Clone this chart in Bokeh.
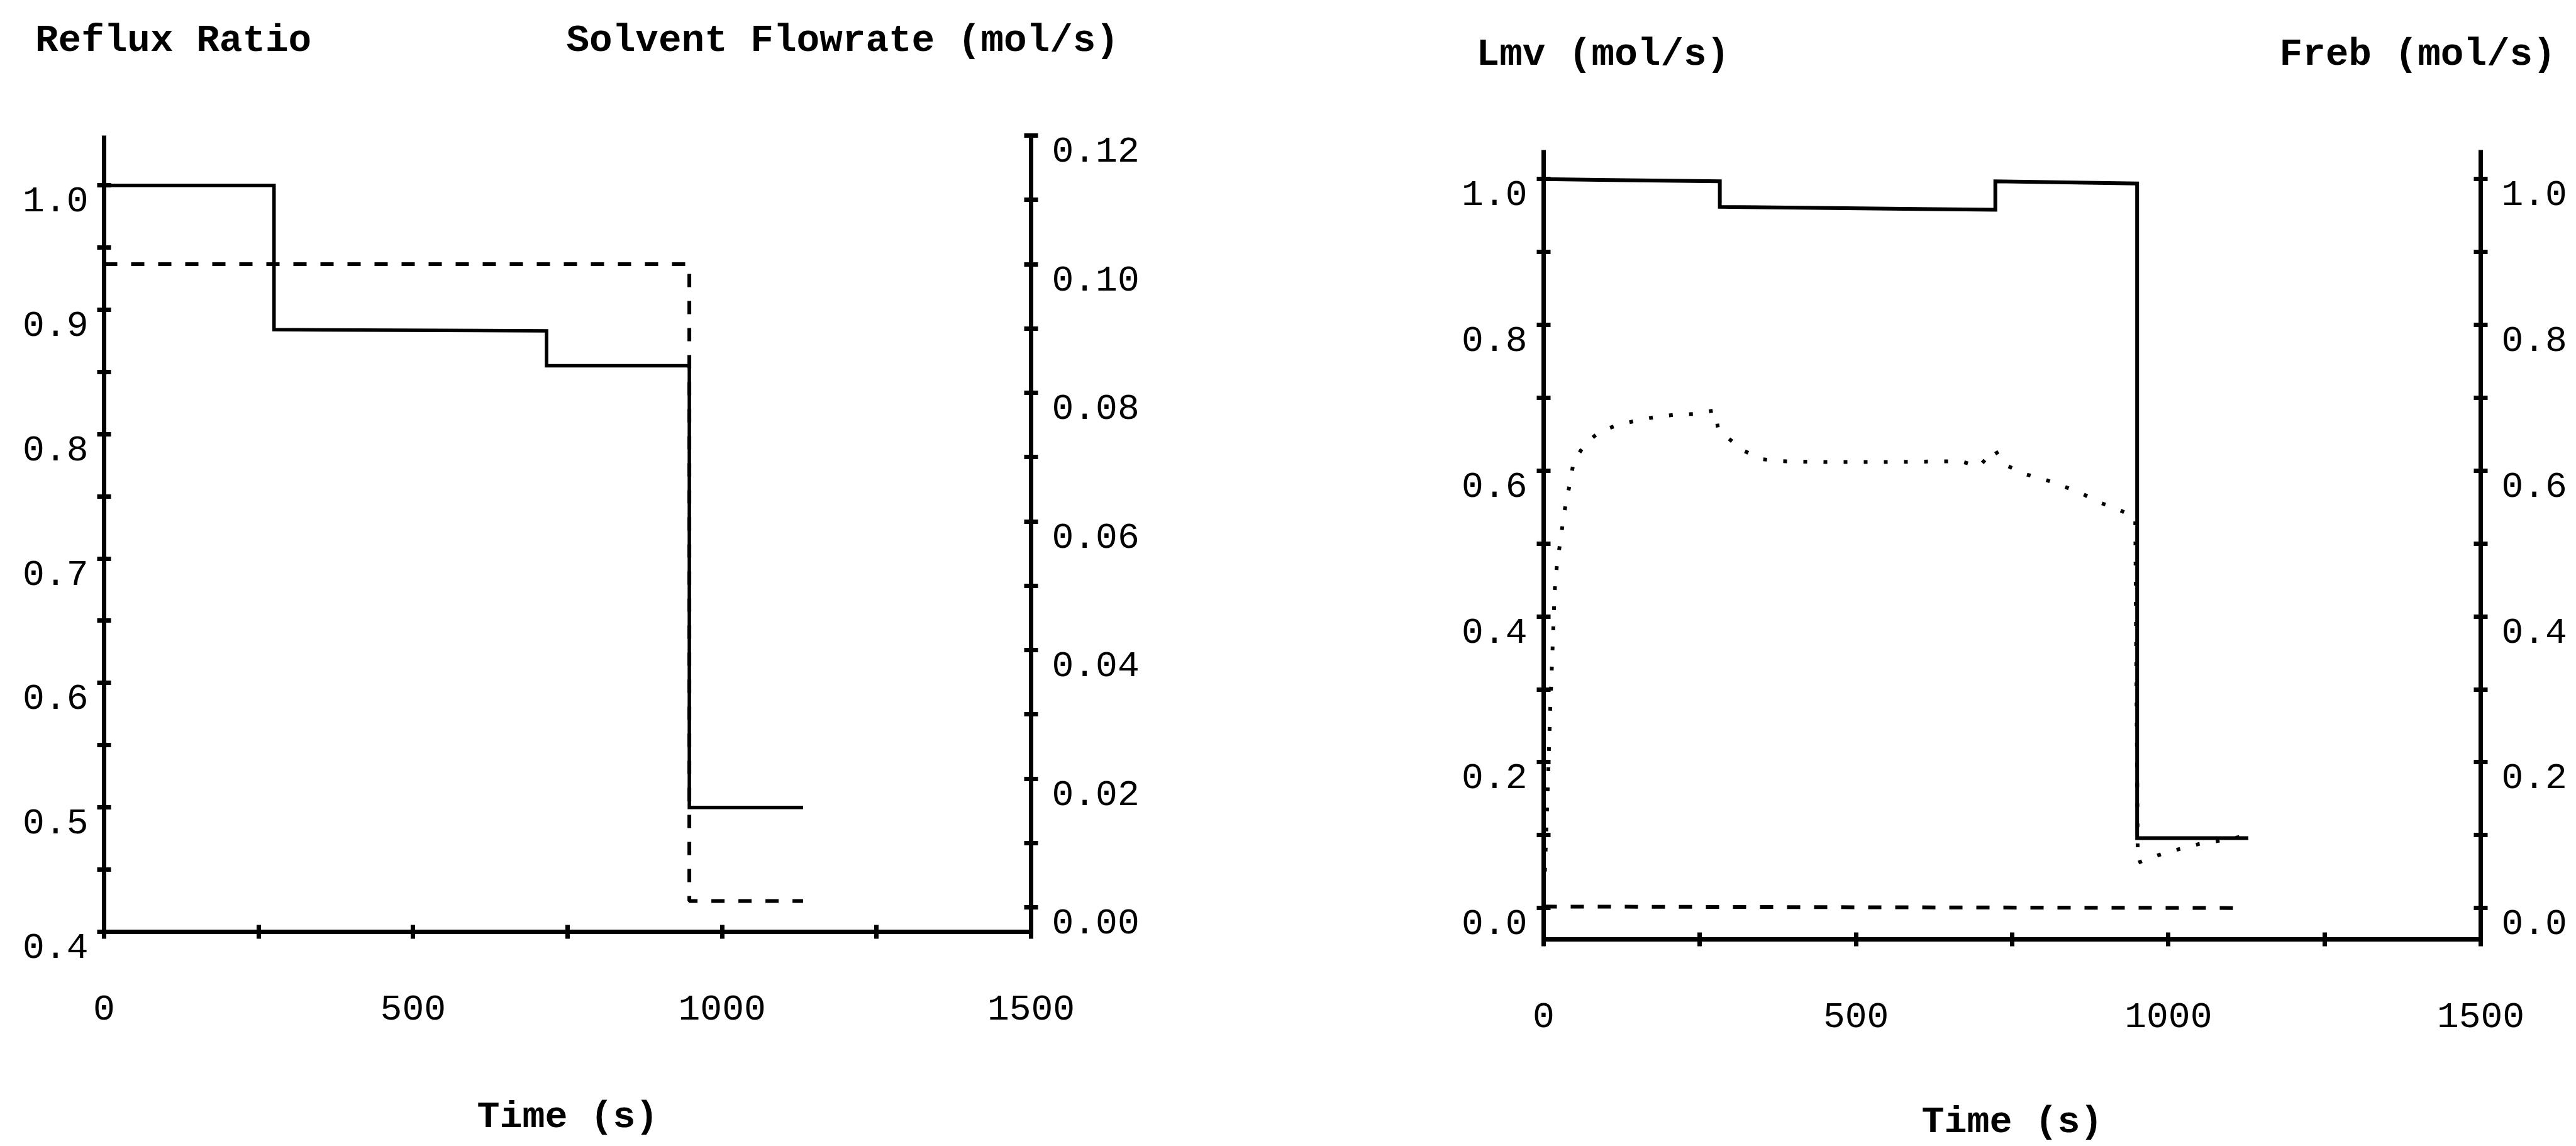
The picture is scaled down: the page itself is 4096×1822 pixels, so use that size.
from bokeh.plotting import figure
from bokeh.models import Range1d, LinearAxis, FixedTicker
from bokeh.layouts import row
from bokeh.embed import file_html
from bokeh.resources import INLINE

# ---------------- data: left chart ----------------
reflux_t = [0, 275, 275, 716, 716, 947, 947, 1131]
reflux_v = [1.0, 1.0, 0.884, 0.883, 0.855, 0.855, 0.50, 0.50]
solvent_t = [0, 947, 947, 1131]
solvent_v = [0.100, 0.100, 0.001, 0.001]

# ---------------- data: right chart ----------------
lmv_t = [0, 282, 282, 723, 723, 950, 950, 1128]
lmv_v = [1.0, 0.997, 0.962, 0.958, 0.997, 0.994, 0.096, 0.096]
freb_t = [2, 6, 10, 14, 17, 18.5, 22, 27, 31, 36, 43, 48, 66, 90, 120, 150, 181, 212, 243,
          275, 279, 295, 319, 348, 380, 450, 550, 667, 697, 722, 735, 744, 772, 802, 831,
          861, 888, 917, 947, 951, 975, 1000, 1050, 1100, 1128]
freb_v = [0.05, 0.15, 0.26, 0.35, 0.42, 0.448, 0.476, 0.504, 0.531, 0.558, 0.586, 0.613,
          0.636, 0.654, 0.663, 0.669, 0.674, 0.677, 0.678, 0.683, 0.658, 0.645, 0.628, 0.616,
          0.613, 0.612, 0.612, 0.613, 0.606, 0.629, 0.612, 0.606, 0.595, 0.588, 0.579, 0.569,
          0.557, 0.548, 0.536, 0.062, 0.070, 0.077, 0.088, 0.095, 0.100]
third_t = [0, 1125]
third_v = [0.002, 0.0]

# ---------------- ticks and labels ----------------
time_ticks = [0, 500, 1000, 1500]
time_minor = [250, 750, 1250]
reflux_ticks = [0.4, 0.5, 0.6, 0.7, 0.8, 0.9, 1.0]
reflux_labels = ["0.4", "0.5", "0.6", "0.7", "0.8", "0.9", "1.0"]
reflux_minor = [0.45, 0.55, 0.65, 0.75, 0.85, 0.95]
solvent_ticks = [0.0, 0.02, 0.04, 0.06, 0.08, 0.10, 0.12]
solvent_labels = ["0.00", "0.02", "0.04", "0.06", "0.08", "0.10", "0.12"]
solvent_minor = [0.01, 0.03, 0.05, 0.07, 0.09, 0.11]
lmv_ticks = [0.0, 0.2, 0.4, 0.6, 0.8, 1.0]
lmv_labels = ["0.0", "0.2", "0.4", "0.6", "0.8", "1.0"]
lmv_minor = [0.1, 0.3, 0.5, 0.7, 0.9]
freb_ticks = [0.0, 0.2, 0.4, 0.6, 0.8, 1.0]
freb_labels = ["0.0", "0.2", "0.4", "0.6", "0.8", "1.0"]
freb_minor = [0.1, 0.3, 0.5, 0.7, 0.9]

# axis titles (placed along the top, as in the original)
left_titles = ["Reflux Ratio", "Solvent Flowrate (mol/s)"]
left_title_at = [112, 1195]          # time position of each title's centre
right_titles = ["Lmv (mol/s)", "Freb (mol/s)"]
right_title_at = [95, 1399]
time_title = "Time (s)"

FONT = "Liberation Mono"
TICK_FS = "58px"
TITLE_FS = "61px"


def style_axis(ax, ticks, minor, labels=None, standoff=14, hang=False):
    ax.ticker = FixedTicker(ticks=ticks, minor_ticks=minor)
    ax.axis_line_width = 7
    ax.axis_line_color = "black"
    ax.major_tick_in = 11
    ax.major_tick_out = 11
    ax.minor_tick_in = 11
    ax.minor_tick_out = 11
    ax.major_tick_line_width = 7
    ax.minor_tick_line_width = 7
    ax.major_tick_line_color = "black"
    ax.minor_tick_line_color = "black"
    ax.major_label_text_font = FONT
    ax.major_label_text_font_size = TICK_FS
    ax.major_label_text_color = "black"
    ax.major_label_standoff = standoff
    if labels is not None:
        # the original prints each value label hanging just below its tick
        prefix = "\n" if hang else ""
        ax.major_label_overrides = {t: prefix + s for t, s in zip(ticks, labels)}
        if hang:
            ax.major_label_text_line_height = 0.8


def title_axis(p, positions, texts, standoff):
    ax = LinearAxis()
    ax.ticker = FixedTicker(ticks=positions, minor_ticks=[])
    ax.major_label_overrides = {t: s for t, s in zip(positions, texts)}
    ax.axis_line_color = None
    ax.major_tick_line_color = None
    ax.minor_tick_line_color = None
    ax.major_tick_in = 0
    ax.major_tick_out = 0
    ax.major_label_standoff = standoff
    ax.major_label_text_font = FONT
    ax.major_label_text_font_size = TITLE_FS
    ax.major_label_text_font_style = "bold"
    ax.major_label_text_color = "black"
    p.add_layout(ax, "above")


def make_fig(width, bl, br, bt, bb, yr):
    p = figure(width=width, height=1822, x_range=Range1d(0, 1500), y_range=yr,
               output_backend="svg", toolbar_location=None, tools="",
               min_border_left=bl, min_border_right=br, min_border_top=bt, min_border_bottom=bb)
    p.frame_align = False
    p.grid.visible = False
    p.outline_line_color = None
    p.background_fill_color = "white"
    p.border_fill_color = "white"
    return p


def time_axis(ax, label_standoff, axis_label_standoff):
    style_axis(ax, time_ticks, time_minor, standoff=label_standoff)
    ax.axis_label = time_title
    ax.axis_label_text_font = FONT
    ax.axis_label_text_font_size = "60px"
    ax.axis_label_text_font_style = "bold"
    ax.axis_label_text_color = "black"
    ax.axis_label_standoff = axis_label_standoff


# ---------------- left chart ----------------
p1 = make_fig(2047, 165, 408, 215, 341, Range1d(0.4, 1.040))
p1.extra_y_ranges = {"solvent": Range1d(-0.0038, 0.12)}
p1.add_layout(LinearAxis(y_range_name="solvent"), "right")
time_axis(p1.xaxis[0], 90, 118)
style_axis(p1.yaxis[0], reflux_ticks, reflux_minor, reflux_labels, standoff=14, hang=True)
style_axis(p1.yaxis[1], solvent_ticks, solvent_minor, solvent_labels, standoff=22, hang=True)
title_axis(p1, left_title_at, left_titles, 117)

p1.line(reflux_t, reflux_v, line_color="black", line_width=5.5, line_join="miter")
p1.line(solvent_t, solvent_v, line_color="black", line_width=6, line_dash="21 22",
        y_range_name="solvent")

# ---------------- right chart ----------------
p2 = make_fig(2049, 407, 152, 238, 329, Range1d(-0.043, 1.040))
p2.extra_y_ranges = {"freb": Range1d(-0.043, 1.040)}
p2.add_layout(LinearAxis(y_range_name="freb"), "right")
time_axis(p2.xaxis[0], 90, 114)
style_axis(p2.yaxis[0], lmv_ticks, lmv_minor, lmv_labels, standoff=15, hang=True)
style_axis(p2.yaxis[1], freb_ticks, freb_minor, freb_labels, standoff=22, hang=True)
title_axis(p2, right_title_at, right_titles, 118)

p2.line(lmv_t, lmv_v, line_color="black", line_width=6, line_join="miter")
p2.line(freb_t, freb_v, line_color="black", line_width=6, line_dash="6 26",
        y_range_name="freb")
p2.line(third_t, third_v, line_color="black", line_width=6, line_dash="21 22")

layout = row(p1, p2)
open("out.html", "w").write(file_html(layout, INLINE))
